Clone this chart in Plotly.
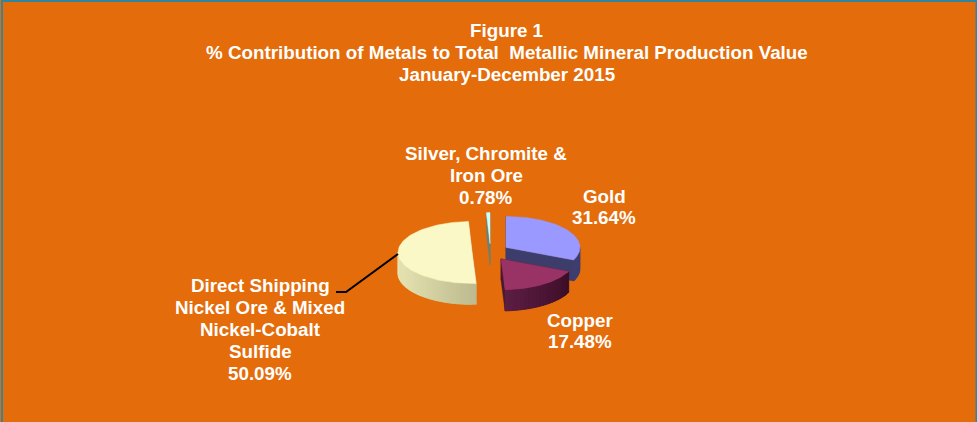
import numpy as np
import plotly.graph_objects as go

# clockwise from 12 o'clock, as in the original chart
categories = ["Gold", "Copper", "Direct Shipping<br>Nickel Ore & Mixed<br>Nickel-Cobalt<br>Sulfide",
              "Silver, Chromite &<br>Iron Ore"]
values = [31.64, 17.48, 50.09, 0.78]
top_colors = ["#9999FF", "#993366", "#F9F8C6", "#CCFFFF"]
face_colors = ["#3D3D6C", "#4A1733", "#C9C79C", "#6E8070"]
wall_left = ["#3F3F70", "#5E1E44", "#E6E3B2", "#7FA0A0"]
wall_right = ["#3F3F70", "#3C0F28", "#98966F", "#7FA0A0"]
title_lines = ["Figure 1", "% Contribution of Metals to Total  Metallic Mineral Production Value",
               "January-December 2015"]
label_x = [604, 580, 260, 486]
label_y = [207, 331, 329.5, 175.5]

# picture geometry, in pixels
cx, cy = 490.5, 252
rx, ry = 74, 31
ex, ey = 18.5, 8.4
depth = 21
line_gap = 21.8
font = dict(family="Liberation Sans", size=18.8, color="white")


def rim(t, x0, y0):
    return x0 + rx * np.sin(t), y0 - ry * np.cos(t)


def mix(c1, c2, f):
    a = [int(c1[i:i + 2], 16) for i in (1, 3, 5)]
    b = [int(c2[i:i + 2], 16) for i in (1, 3, 5)]
    return "rgb(%d,%d,%d)" % tuple(a[i] + (b[i] - a[i]) * f for i in range(3))


def poly(fig, xs, ys, color):
    fig.add_trace(go.Scatter(x=xs, y=ys, mode="lines", fill="toself", fillcolor=color,
                             line=dict(color=color, width=0.5), hoverinfo="skip", showlegend=False))


def text_line(fig, x, y, line):
    fig.add_annotation(x=x, y=y, xref="x", yref="y", showarrow=False, align="center",
                       text=f"<b>{line}</b>", font=font)


fig = go.Figure()

bounds = np.radians(np.concatenate([[0], np.cumsum(values)]) * 3.6)
slices = []
for i in range(len(values)):
    t0, t1 = bounds[i], bounds[i + 1]
    mid = (t0 + t1) / 2
    slices.append((i, t0, t1, cx + ex * np.sin(mid), cy - ey * np.cos(mid)))

# back to front
for i, t0, t1, x0, y0 in [slices[3], slices[2], slices[0], slices[1]]:
    # cut faces
    for t in (t0, t1):
        rx1, ry1 = rim(t, x0, y0)
        poly(fig, [x0, rx1, rx1, x0, x0], [y0, ry1, ry1 + depth, y0 + depth, y0], face_colors[i])
    # outer wall, only the front half of the rim shows
    a, b = max(t0, np.pi / 2), min(t1, 3 * np.pi / 2)
    if b > a:
        n = max(int(np.degrees(b - a) / 3), 1)
        edges = np.linspace(a, b, n + 1)
        for k in range(n):
            # each strip runs under the next one so no seams show
            tt = np.linspace(edges[k], edges[min(k + 2, n)], 5)
            xs, ys = rim(tt, x0, y0)
            xm = x0 + rx * np.sin((edges[k] + edges[k + 1]) / 2)
            f = np.clip((xm - (x0 - rx)) / (2 * rx), 0, 1)
            if i == 1:
                f = np.clip((edges[-1] - edges[k]) / (b - a), 0, 1)
            poly(fig, np.r_[xs, xs[::-1], xs[0]], np.r_[ys, ys[::-1] + depth, ys[0]],
                 mix(wall_left[i], wall_right[i], f))
    # top of the slice
    tt = np.linspace(t0, t1, 80)
    xs, ys = rim(tt, x0, y0)
    poly(fig, np.r_[x0, xs, x0], np.r_[y0, ys, y0], top_colors[i])

# leader line of the nickel label
fig.add_trace(go.Scatter(x=[336, 346, 398], y=[292, 292, 254], mode="lines",
                         line=dict(color="black", width=2), hoverinfo="skip", showlegend=False))

for name, value, x, y in zip(categories, values, label_x, label_y):
    lines = name.split("<br>") + [f"{value:.2f}%"]
    for k, line in enumerate(lines):
        text_line(fig, x, y + (k - (len(lines) - 1) / 2) * line_gap, line)

for k, line in enumerate(title_lines):
    text_line(fig, 506.5, 30 + k * 22, line)

fig.update_layout(
    width=977, height=422,
    paper_bgcolor="#E46C0A", plot_bgcolor="#E46C0A",
    margin=dict(l=0, r=0, t=0, b=0),
    xaxis=dict(range=[0, 977], visible=False, fixedrange=True),
    yaxis=dict(range=[422, 0], visible=False, fixedrange=True),
    shapes=[dict(type="rect", xref="x", yref="y", x0=2, y0=1, x1=976.5, y1=440,
                 line=dict(color="#31859C", width=2))],
)

fig.write_html("out.html", config=dict(displayModeBar=False),
               post_script="document.body.style.margin='0';")
